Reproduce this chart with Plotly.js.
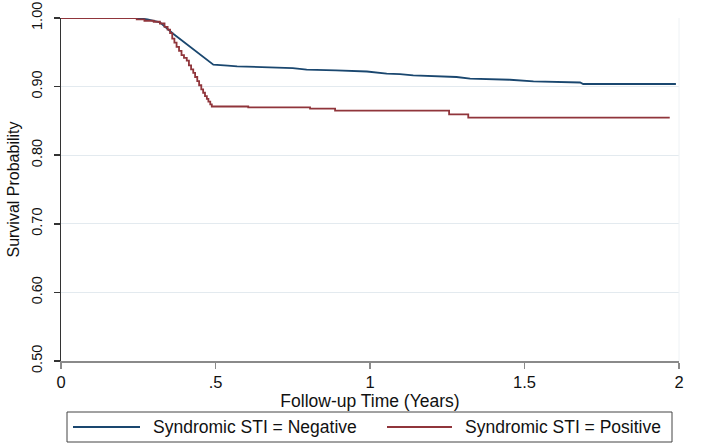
<!DOCTYPE html>
<html>
<head>
<meta charset="utf-8">
<script src="https://cdn.plot.ly/plotly-3.0.1.min.js"></script>
<style>
  html, body { margin: 0; padding: 0; background: #ffffff; }
  #chart { width: 702px; height: 446px; }
</style>
</head>
<body>
<div id="chart"></div>
<script>
// ---- Data ----
const negTime = [0, 0.245, 0.28, 0.32, 0.363, 0.40, 0.493, 0.54, 0.57, 0.75, 0.795, 0.89, 0.99, 1.054, 1.097, 1.14, 1.28, 1.324, 1.453, 1.529, 1.68, 1.69, 1.99];
const negSurv = [1, 1, 0.998, 0.9936, 0.977, 0.964, 0.932, 0.9305, 0.9295, 0.927, 0.9246, 0.9236, 0.922, 0.9188, 0.9182, 0.9164, 0.914, 0.9115, 0.910, 0.9076, 0.906, 0.9038, 0.9038];

const posTime = [0, 0.245, 0.27, 0.30, 0.32, 0.335, 0.345, 0.353, 0.36, 0.367, 0.374, 0.382, 0.39, 0.398, 0.407, 0.414, 0.421, 0.428, 0.434, 0.441, 0.447, 0.454, 0.46, 0.466, 0.472, 0.477, 0.483, 0.488, 0.606, 0.806, 0.887, 1.256, 1.318, 1.97];
const posSurv = [1, 0.998, 0.996, 0.9945, 0.992, 0.987, 0.983, 0.978, 0.970, 0.964, 0.958, 0.952, 0.946, 0.942, 0.938, 0.931, 0.925, 0.920, 0.914, 0.908, 0.902, 0.896, 0.891, 0.886, 0.882, 0.878, 0.874, 0.871, 0.8697, 0.868, 0.865, 0.8595, 0.8547, 0.8547];

const seriesNames = ["Syndromic STI = Negative", "Syndromic STI = Positive"];
const xTickVals = [0, 0.5, 1, 1.5, 2];
const xTickText = ["0", ".5", "1", "1.5", "2"];
const yTickVals = [0.5, 0.6, 0.7, 0.8, 0.9, 1.0];
const yTickText = ["0.50", "0.60", "0.70", "0.80", "0.90", "1.00"];

// ---- Styling ----
const NAVY = "#1a476f";
const MAROON = "#90353b";
const FONT = "Liberation Sans, Arial, sans-serif";

const W = 702, H = 446;
const M = { l: 61, r: 23, t: 18, b: 85 };
const PW = W - M.l - M.r, PH = H - M.t - M.b;
const px2x = p => (p - M.l) / PW;
const px2y = p => (H - M.b - p) / PH;

const traces = [
  { x: negTime, y: negSurv, mode: "lines", name: seriesNames[0],
    line: { color: NAVY, width: 1.8, shape: "linear" }, showlegend: false, hoverinfo: "x+y" },
  { x: posTime, y: posSurv, mode: "lines", name: seriesNames[1],
    line: { color: MAROON, width: 1.8, shape: "hv" }, showlegend: false, hoverinfo: "x+y" }
];

// Legend drawn as a boxed row under the axis title
const legY = px2y(427);
const shapes = [
  { type: "rect", xref: "paper", yref: "paper", x0: px2x(67), x1: px2x(672), y0: px2y(412), y1: px2y(442),
    line: { color: "#444444", width: 1 }, fillcolor: "rgba(0,0,0,0)" },
  { type: "line", xref: "paper", yref: "paper", x0: px2x(73), x1: px2x(140), y0: legY, y1: legY,
    line: { color: NAVY, width: 1.8 } },
  { type: "line", xref: "paper", yref: "paper", x0: px2x(387), x1: px2x(452), y0: legY, y1: legY,
    line: { color: MAROON, width: 1.8 } },
  { type: "line", xref: "paper", yref: "paper", x0: 1, x1: 1, y0: 0, y1: 1,
    line: { color: "#eef2f5", width: 1 } }
];
const annotations = [
  { xref: "paper", yref: "paper", x: px2x(151), y: legY, xanchor: "left", yanchor: "middle",
    text: seriesNames[0], showarrow: false, font: { family: FONT, size: 17.5, color: "#111111" } },
  { xref: "paper", yref: "paper", x: px2x(463), y: legY, xanchor: "left", yanchor: "middle",
    text: seriesNames[1], showarrow: false, font: { family: FONT, size: 17.5, color: "#111111" } }
];

const layout = {
  width: W, height: H,
  margin: M,
  paper_bgcolor: "#ffffff", plot_bgcolor: "#ffffff",
  font: { family: FONT, color: "#111111" },
  showlegend: false,
  xaxis: {
    range: [0, 2], tickvals: xTickVals, ticktext: xTickText,
    showgrid: false, zeroline: false,
    showline: true, linecolor: "#8a8a8a", linewidth: 1.5,
    ticks: "outside", ticklen: 6, tickcolor: "#8a8a8a", tickwidth: 1.5,
    tickfont: { family: FONT, size: 16.5, color: "#111111" },
    automargin: true,
    title: { text: "Follow-up Time (Years)", standoff: 0, font: { family: FONT, size: 17.5, color: "#111111" } }
  },
  yaxis: {
    range: [0.5, 1.0], tickvals: yTickVals, ticktext: yTickText, tickangle: -90,
    showgrid: true, gridcolor: "#e3eaef", gridwidth: 1, zeroline: false,
    showline: true, linecolor: "#333333", linewidth: 1.5,
    ticks: "outside", ticklen: 6, tickcolor: "#333333", tickwidth: 1.5,
    ticklabelstandoff: 6,
    tickfont: { family: FONT, size: 14.5, color: "#111111" },
    title: { text: "Survival Probability", font: { family: FONT, size: 16, color: "#111111" } }
  },
  shapes: shapes,
  annotations: annotations
};

Plotly.newPlot("chart", traces, layout, { displayModeBar: false, staticPlot: true });
</script>
</body>
</html>
